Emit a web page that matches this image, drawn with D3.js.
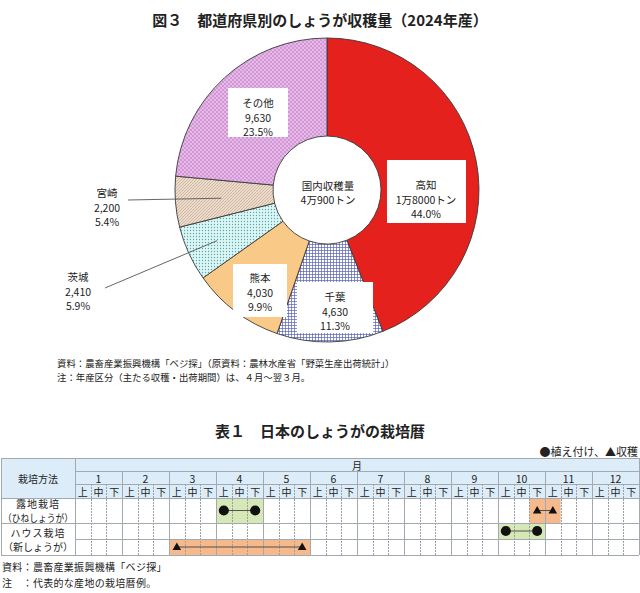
<!DOCTYPE html>
<meta charset="utf-8">
<style>
body { margin: 0; background: #fff; }
svg text { font-family: "Noto Sans CJK JP", "Noto Sans", sans-serif; fill: #222; }
.grid { stroke: #a3a9b0; stroke-width: 1; fill: none; shape-rendering: crispEdges; }
.dot { stroke: #9aa0a8; stroke-width: 1; stroke-dasharray: 1.5,1.5; shape-rendering: crispEdges; }
</style>
<body>
<div id="chart"></div>
<script src="https://cdn.jsdelivr.net/npm/d3@7/dist/d3.min.js"></script>
<script>
//------------------------ DATA ------------------------//
const prefs = ["高知", "千葉", "熊本", "茨城", "宮崎", "その他"];
const harvest = [18000, 4630, 4030, 2410, 2200, 9630];
const amountLabels = ["1万8000トン", "4,630", "4,030", "2,410", "2,200", "9,630"];
const shareLabels = ["44.0%", "11.3%", "9.9%", "5.9%", "5.4%", "23.5%"];
const totalLabel = ["国内収穫量", "4万900トン"];

const months = [1, 2, 3, 4, 5, 6, 7, 8, 9, 10, 11, 12];
const dekads = ["上", "中", "下"];
const methods = [["露地栽培", "（ひねしょうが）"], ["ハウス栽培", "（新しょうが）"]];
// row = method, lane = sub row (-1 = whole row), kind, first / last dekad
const schedule = [
  {row: 0, lane: -1, kind: "plant",   from: "4上",  to: "4下"},
  {row: 0, lane: -1, kind: "harvest", from: "10下", to: "11上"},
  {row: 1, lane: 0,  kind: "plant",   from: "10上", to: "10下"},
  {row: 1, lane: 1,  kind: "harvest", from: "3上",  to: "5下"}
];

//------------------------ LAYOUT ------------------------//
const W = 640, H = 593;
const cx = 327, cy = 190, rOut = 152, rIn = 54;
const sliceFill = ["#e4211c", "url(#pChiba)", "#f9c987", "url(#pIbaraki)", "url(#pMiyazaki)", "url(#pOther)"];
// text centre, white box (or leader start for outside labels)
const labelPos = [
  {x: 426, y: 199, box: [387, 160, 79, 63]},
  {x: 335, y: 311, box: [297, 282, 76, 51]},
  {x: 260, y: 292, box: [233, 264, 54, 53]},
  {x: 78,  y: 291, lead: [105, 288], r: 121},
  {x: 107, y: 207, lead: [128, 200], r: 106},
  {x: 258, y: 117, box: [228, 88, 60, 49]}
];
const lineH = 14.5;

const svg = d3.select("#chart").append("svg")
    .attr("width", W)
    .attr("height", H);

const defs = svg.append("defs");
// その他 : pink cross hatch
let p = defs.append("pattern").attr("id", "pOther").attr("patternUnits", "userSpaceOnUse")
    .attr("width", 4).attr("height", 4);
p.append("rect").attr("width", 4).attr("height", 4).attr("fill", "#e8b8e8");
p.append("path").attr("d", "M0,4L4,0M0,0L4,4").attr("stroke", "#c084c8").attr("stroke-width", 0.6);
// 宮崎 : beige diagonal
p = defs.append("pattern").attr("id", "pMiyazaki").attr("patternUnits", "userSpaceOnUse")
    .attr("width", 3).attr("height", 3);
p.append("rect").attr("width", 3).attr("height", 3).attr("fill", "#ecdccc");
p.append("path").attr("d", "M0,3L3,0").attr("stroke", "#c4a68e").attr("stroke-width", 0.7);
// 茨城 : cyan dots
p = defs.append("pattern").attr("id", "pIbaraki").attr("patternUnits", "userSpaceOnUse")
    .attr("width", 3).attr("height", 3);
p.append("rect").attr("width", 3).attr("height", 3).attr("fill", "#dcf6f6");
p.append("circle").attr("cx", 1.5).attr("cy", 1.5).attr("r", 0.65).attr("fill", "#5aa6a6");
// 千葉 : navy grid
p = defs.append("pattern").attr("id", "pChiba").attr("patternUnits", "userSpaceOnUse")
    .attr("width", 3).attr("height", 3);
p.append("rect").attr("width", 3).attr("height", 3).attr("fill", "#ffffff");
p.append("path").attr("d", "M0,0.5H3M0.5,0V3").attr("stroke", "#5862b4").attr("stroke-width", 0.7);

//------------------------ PIE ------------------------//
svg.append("text")
    .attr("x", 320).attr("y", 19)
    .attr("text-anchor", "middle").attr("dominant-baseline", "central")
    .style("font-size", "15px").style("font-weight", "bold")
    .text("図３　都道府県別のしょうが収穫量（2024年産）");

const pie = d3.pie().sort(null).value(d => d);
const arcs = pie(harvest);
const arc = d3.arc().innerRadius(rIn).outerRadius(rOut);

const gPie = svg.append("g").attr("transform", "translate(" + cx + "," + cy + ")");
gPie.selectAll("path.slice")
    .data(arcs)
  .enter().append("path")
    .attr("class", "slice")
    .attr("d", arc)
    .attr("fill", (d, i) => sliceFill[i])
    .attr("stroke", "#3a3a3a")
    .attr("stroke-width", 0.9);

// centre text
gPie.selectAll("text.total")
    .data(totalLabel)
  .enter().append("text")
    .attr("class", "total")
    .attr("x", 1)
    .attr("y", (d, i) => 2 + (i - 0.5) * 14)
    .attr("text-anchor", "middle").attr("dominant-baseline", "central")
    .style("font-size", "10.5px")
    .text(d => d);

// leader lines for outside labels
arcs.forEach(function(a, i) {
  const lp = labelPos[i];
  if (!lp.lead) return;
  const c = d3.arc().innerRadius(lp.r).outerRadius(lp.r).centroid(a);
  svg.append("line")
      .attr("x1", lp.lead[0]).attr("y1", lp.lead[1])
      .attr("x2", cx + c[0]).attr("y2", cy + c[1])
      .attr("stroke", "#555").attr("stroke-width", 0.9);
});

// label boxes and texts
prefs.forEach(function(name, i) {
  const lp = labelPos[i];
  if (lp.box) {
    svg.append("rect")
        .attr("x", lp.box[0]).attr("y", lp.box[1])
        .attr("width", lp.box[2]).attr("height", lp.box[3])
        .attr("fill", "#fff");
  }
  [name, amountLabels[i], shareLabels[i]].forEach(function(t, k) {
    svg.append("text")
        .attr("x", lp.x).attr("y", lp.y + (k - 1) * lineH)
        .attr("text-anchor", "middle").attr("dominant-baseline", "central")
        .style("font-size", "10.5px")
        .text(t);
  });
});

// sources
const pieNotes = ["資料：農畜産業振興機構「ベジ探」（原資料：農林水産省「野菜生産出荷統計」）",
                  "注：年産区分（主たる収穫・出荷期間）は、４月～翌３月。"];
svg.selectAll("text.pnote")
    .data(pieNotes)
  .enter().append("text")
    .attr("class", "pnote")
    .attr("x", 57).attr("y", (d, i) => 363 + i * 14)
    .attr("dominant-baseline", "central")
    .style("font-size", "9.4px")
    .text(d => d);

//------------------------ TABLE ------------------------//
const tL = 1, tLab = 75, tR = 639;
const yTop = 458, yMon = 471, yDek = 484, yBody = 498;
const rowY = [498, 523, 555];      // method row edges
const laneY = [523, 539, 555];     // house sub rows

svg.append("text")
    .attr("x", 320).attr("y", 430)
    .attr("text-anchor", "middle").attr("dominant-baseline", "central")
    .style("font-size", "15px").style("font-weight", "bold")
    .text("表１　日本のしょうがの栽培暦");
svg.append("text")
    .attr("x", 638).attr("y", 451)
    .attr("text-anchor", "end").attr("dominant-baseline", "central")
    .style("font-size", "11px")
    .text("●植え付け、▲収穫");

const xDek = d3.scaleLinear().domain([0, 36]).range([tLab, tR]);
const xMon = d3.scaleBand().domain(months).range([tLab, tR]);
const dekIndex = s => (parseInt(s) - 1) * 3 + dekads.indexOf(s.slice(-1));

// header background
svg.append("rect")
    .attr("x", tL).attr("y", yTop)
    .attr("width", tR - tL).attr("height", yBody - yTop)
    .attr("fill", "#dcedf9");

// schedule fills
const fillCol = {plant: "#d5e8b6", harvest: "#f5b98b"};
const laneTop = d => d.lane < 0 ? rowY[d.row] : laneY[d.lane];
const laneBot = d => d.lane < 0 ? rowY[d.row + 1] : laneY[d.lane + 1];
svg.selectAll("rect.sched")
    .data(schedule)
  .enter().append("rect")
    .attr("class", "sched")
    .attr("x", d => xDek(dekIndex(d.from)))
    .attr("y", d => laneTop(d))
    .attr("width", d => xDek(dekIndex(d.to) + 1) - xDek(dekIndex(d.from)))
    .attr("height", d => laneBot(d) - laneTop(d))
    .attr("fill", d => fillCol[d.kind]);

// dotted dekad lines
const dekLines = d3.range(1, 36).filter(i => i % 3 !== 0);
svg.selectAll("line.dot")
    .data(dekLines)
  .enter().append("line")
    .attr("class", "dot")
    .attr("x1", d => Math.round(xDek(d)) + 0.5).attr("x2", d => Math.round(xDek(d)) + 0.5)
    .attr("y1", yDek).attr("y2", rowY[2]);

// solid grid
const hLines = [[tL, yTop], [tLab, yMon], [tLab, yDek], [tL, yBody], [tL, rowY[1]], [tLab, laneY[1]], [tL, rowY[2]]];
svg.selectAll("line.h")
    .data(hLines)
  .enter().append("line")
    .attr("class", "grid")
    .attr("x1", d => d[0]).attr("x2", tR)
    .attr("y1", d => d[1] + 0.5).attr("y2", d => d[1] + 0.5);
svg.selectAll("line.v")
    .data(months.slice(1))
  .enter().append("line")
    .attr("class", "grid")
    .attr("x1", d => Math.round(xMon(d)) + 0.5).attr("x2", d => Math.round(xMon(d)) + 0.5)
    .attr("y1", yMon).attr("y2", rowY[2]);
[[tL, yTop], [tLab, yTop], [tR, yTop]].forEach(function(v) {
  svg.append("line")
      .attr("class", "grid")
      .attr("x1", v[0] + 0.5).attr("x2", v[0] + 0.5)
      .attr("y1", v[1]).attr("y2", rowY[2]);
});

// markers
const midY = d => (laneTop(d) + laneBot(d)) / 2;
schedule.forEach(function(d) {
  const a = xDek(dekIndex(d.from) + 0.5), b = xDek(dekIndex(d.to) + 0.5);
  svg.append("line")
      .attr("x1", a).attr("x2", b)
      .attr("y1", midY(d)).attr("y2", midY(d))
      .attr("stroke", "#444").attr("stroke-width", 0.9);
  const sym = d.kind === "plant"
      ? d3.symbol(d3.symbolCircle).size(80)
      : d3.symbol(d3.symbolTriangle).size(32);
  [a, b].forEach(function(x) {
    svg.append("path")
        .attr("d", sym())
        .attr("transform", "translate(" + x + "," + (midY(d) + (d.kind === "plant" ? 0 : 0.5)) + ")")
        .attr("fill", "#111");
  });
});

// header texts
svg.append("text")
    .attr("x", (tL + tLab) / 2).attr("y", (yTop + yBody) / 2)
    .attr("text-anchor", "middle").attr("dominant-baseline", "central")
    .style("font-size", "10px")
    .text("栽培方法");
svg.append("text")
    .attr("x", (tLab + tR) / 2).attr("y", (yTop + yMon) / 2 + 0.5)
    .attr("text-anchor", "middle").attr("dominant-baseline", "central")
    .style("font-size", "10px")
    .text("月");
svg.selectAll("text.mon")
    .data(months)
  .enter().append("text")
    .attr("class", "mon")
    .attr("x", d => xMon(d) + xMon.bandwidth() / 2).attr("y", (yMon + yDek) / 2 + 0.5)
    .attr("text-anchor", "middle").attr("dominant-baseline", "central")
    .style("font-size", "10.5px")
    .text(d => d);
svg.selectAll("text.dek")
    .data(d3.range(36))
  .enter().append("text")
    .attr("class", "dek")
    .attr("x", d => xDek(d + 0.5)).attr("y", (yDek + yBody) / 2 + 0.5)
    .attr("text-anchor", "middle").attr("dominant-baseline", "central")
    .style("font-size", "10px")
    .text(d => dekads[d % 3]);

// method labels
methods.forEach(function(m, i) {
  const mid = (rowY[i] + rowY[i + 1]) / 2;
  m.forEach(function(t, k) {
    const txt = svg.append("text")
        .attr("x", (tL + tLab) / 2).attr("y", mid + (k - 0.5) * 14)
        .attr("text-anchor", "middle").attr("dominant-baseline", "central")
        .style("font-size", "10px")
        .style("letter-spacing", k === 0 ? "1px" : "0px")
        .text(t);
    if (k === 1) txt.attr("textLength", 70).attr("lengthAdjust", "spacingAndGlyphs");
  });
});

// table notes
const tableNotes = ["資料：農畜産業振興機構「ベジ探」", "注　：代表的な産地の栽培暦例。"];
svg.selectAll("text.tnote")
    .data(tableNotes)
  .enter().append("text")
    .attr("class", "tnote")
    .attr("x", 2).attr("y", (d, i) => 566 + i * 16)
    .attr("dominant-baseline", "central")
    .style("font-size", "10px")
    .style("letter-spacing", "0.3px")
    .text(d => d);
</script>
</body>
